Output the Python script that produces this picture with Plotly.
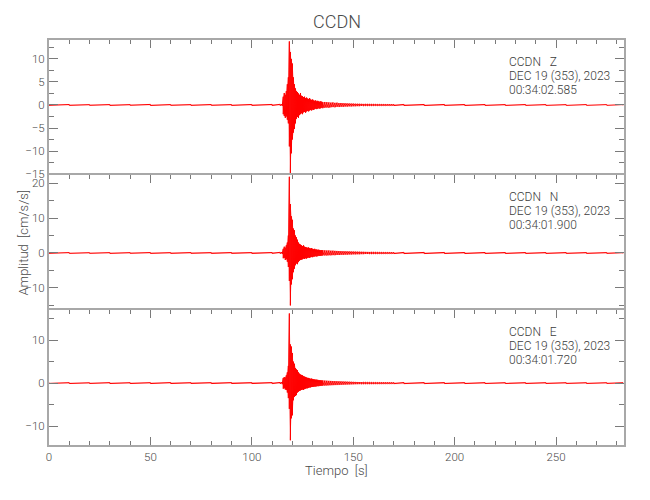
import plotly.graph_objects as go
from plotly.subplots import make_subplots

# ---- sample times (s) ----
T_PRE = [0, 10, 20, 30, 40, 50, 60, 70, 80, 90, 100, 110, 114]
T_EVT1 = [115 + 0.5 * i for i in range(41)]          # 115.0 .. 135.0
T_EVT2 = list(range(136, 171))                       # 136 .. 170
T_POST = [175, 185, 195, 205, 215, 225, 235, 245, 255, 265, 275, 283]
T = T_PRE + T_EVT1 + T_EVT2 + T_POST

# ---- per-sample max / min amplitude (cm/s/s) ----
Z_MAX = ([0.08, 0.1, 0.07, 0.09, 0.08, 0.12, 0.09, 0.08, 0.1, 0.09, 0.11, 0.12, 0.15]
         + [0.2, 1.8, 2.6, 2.2, 3.0, 4.5, 6.0, 13.8, 11.5, 10.0,
            9.0, 6.0, 4.5, 3.6, 3.0, 2.8, 2.5, 2.2, 2.6, 2.0,
            1.9, 1.7, 1.8, 1.5, 1.6, 1.4, 1.3, 1.5, 1.2, 1.1,
            1.2, 1.0, 0.9, 1.0, 0.8, 0.9, 0.8, 0.7, 0.8, 0.7, 0.6]
         + [0.65, 0.6, 0.55, 0.5, 0.55, 0.45, 0.5, 0.4, 0.42, 0.38,
            0.36, 0.34, 0.32, 0.3, 0.3, 0.27, 0.26, 0.25, 0.24, 0.22,
            0.21, 0.2, 0.19, 0.18, 0.18, 0.17, 0.16, 0.16, 0.15, 0.15,
            0.14, 0.14, 0.13, 0.13, 0.12]
         + [0.12, 0.11, 0.11, 0.1, 0.1, 0.09, 0.1, 0.09, 0.08, 0.09, 0.08, 0.08])
Z_MIN = ([-0.08, -0.09, -0.08, -0.1, -0.07, -0.11, -0.08, -0.09, -0.08, -0.1, -0.1, -0.11, -0.14]
         + [-0.2, -2.0, -2.4, -2.8, -2.5, -3.2, -4.0, -9.0, -14.8, -10.5,
            -7.5, -6.0, -5.2, -4.0, -3.0, -2.6, -2.8, -2.2, -2.0, -1.8,
            -2.0, -1.6, -1.5, -1.7, -1.4, -1.3, -1.4, -1.2, -1.1, -1.2,
            -1.0, -1.1, -0.9, -0.8, -0.9, -0.8, -0.7, -0.8, -0.7, -0.6, -0.7]
         + [-0.6, -0.55, -0.6, -0.5, -0.45, -0.5, -0.4, -0.45, -0.38, -0.4,
            -0.34, -0.36, -0.3, -0.32, -0.28, -0.28, -0.25, -0.26, -0.22, -0.23,
            -0.2, -0.21, -0.18, -0.19, -0.17, -0.16, -0.17, -0.15, -0.16, -0.14,
            -0.15, -0.13, -0.14, -0.12, -0.13]
         + [-0.11, -0.12, -0.1, -0.11, -0.1, -0.1, -0.09, -0.09, -0.09, -0.08, -0.08, -0.08])

N_MAX = ([0.1, 0.12, 0.09, 0.11, 0.1, 0.13, 0.1, 0.12, 0.11, 0.13, 0.12, 0.14, 0.2]
         + [0.3, 1.2, 1.8, 1.5, 2.2, 3.0, 5.0, 21.8, 14.0, 10.5,
            9.5, 7.0, 6.5, 5.0, 4.5, 3.8, 3.0, 2.6, 2.4, 2.2,
            2.0, 2.2, 1.8, 1.7, 1.6, 1.5, 1.6, 1.4, 1.3, 1.4,
            1.2, 1.1, 1.2, 1.0, 1.0, 0.9, 0.95, 0.85, 0.8, 0.85, 0.8]
         + [0.75, 0.7, 0.72, 0.65, 0.66, 0.6, 0.58, 0.56, 0.52, 0.5,
            0.48, 0.46, 0.44, 0.42, 0.4, 0.38, 0.36, 0.35, 0.33, 0.32,
            0.3, 0.29, 0.28, 0.27, 0.26, 0.25, 0.24, 0.23, 0.23, 0.22,
            0.21, 0.21, 0.2, 0.19, 0.19]
         + [0.18, 0.17, 0.16, 0.15, 0.15, 0.14, 0.14, 0.13, 0.13, 0.12, 0.12, 0.12])
N_MIN = ([-0.1, -0.11, -0.1, -0.12, -0.09, -0.12, -0.11, -0.1, -0.12, -0.11, -0.13, -0.12, -0.18]
         + [-0.3, -1.5, -1.4, -2.0, -1.8, -2.5, -4.0, -8.0, -15.0, -9.0,
            -7.5, -5.5, -4.5, -3.5, -3.0, -3.2, -2.6, -2.2, -2.0, -1.9,
            -1.8, -1.6, -1.7, -1.5, -1.6, -1.4, -1.3, -1.4, -1.2, -1.1,
            -1.2, -1.0, -1.0, -0.9, -1.0, -0.9, -0.8, -0.85, -0.8, -0.75, -0.7]
         + [-0.7, -0.72, -0.65, -0.66, -0.6, -0.62, -0.55, -0.57, -0.5, -0.52,
            -0.46, -0.47, -0.42, -0.43, -0.38, -0.39, -0.35, -0.36, -0.32, -0.33,
            -0.3, -0.3, -0.27, -0.28, -0.25, -0.25, -0.24, -0.22, -0.23, -0.21,
            -0.21, -0.2, -0.19, -0.19, -0.18]
         + [-0.17, -0.17, -0.15, -0.15, -0.14, -0.14, -0.13, -0.13, -0.12, -0.12, -0.11, -0.11])

E_MAX = ([0.09, 0.1, 0.08, 0.11, 0.09, 0.1, 0.12, 0.09, 0.1, 0.11, 0.1, 0.12, 0.16]
         + [0.25, 1.2, 1.4, 1.3, 1.8, 2.5, 4.0, 16.2, 9.0, 8.5,
            7.0, 5.0, 4.5, 3.5, 3.2, 3.0, 2.5, 2.2, 2.0, 1.9,
            1.8, 1.6, 1.5, 1.4, 1.3, 1.2, 1.2, 1.1, 1.0, 1.05,
            0.95, 0.9, 0.85, 0.8, 0.8, 0.75, 0.7, 0.68, 0.66, 0.62, 0.6]
         + [0.58, 0.55, 0.52, 0.5, 0.47, 0.45, 0.43, 0.41, 0.39, 0.37,
            0.35, 0.33, 0.31, 0.3, 0.28, 0.27, 0.26, 0.25, 0.24, 0.23,
            0.22, 0.21, 0.2, 0.19, 0.18, 0.18, 0.17, 0.17, 0.16, 0.16,
            0.15, 0.15, 0.14, 0.14, 0.13]
         + [0.13, 0.12, 0.12, 0.11, 0.11, 0.1, 0.1, 0.1, 0.09, 0.09, 0.09, 0.09])
E_MIN = ([-0.09, -0.1, -0.09, -0.1, -0.1, -0.11, -0.1, -0.09, -0.11, -0.1, -0.11, -0.12, -0.15]
         + [-0.25, -1.3, -1.2, -1.5, -1.6, -2.2, -3.5, -6.0, -13.3, -8.2,
            -7.5, -4.0, -3.2, -3.0, -2.8, -2.2, -2.0, -1.8, -1.7, -1.6,
            -1.5, -1.6, -1.4, -1.3, -1.2, -1.2, -1.1, -1.0, -1.0, -0.9,
            -0.9, -0.85, -0.8, -0.8, -0.75, -0.7, -0.72, -0.65, -0.62, -0.6, -0.58]
         + [-0.56, -0.54, -0.5, -0.48, -0.46, -0.44, -0.42, -0.4, -0.38, -0.36,
            -0.34, -0.32, -0.31, -0.29, -0.28, -0.26, -0.25, -0.24, -0.23, -0.22,
            -0.21, -0.2, -0.2, -0.19, -0.18, -0.17, -0.17, -0.16, -0.16, -0.15,
            -0.15, -0.14, -0.14, -0.13, -0.13]
         + [-0.12, -0.12, -0.11, -0.11, -0.1, -0.1, -0.1, -0.09, -0.09, -0.09, -0.08, -0.08])

STATION = "CCDN"
COMPONENTS = ["Z", "N", "E"]
DATE_LINE = "DEC 19 (353), 2023"
START_TIMES = ["00:34:02.585", "00:34:01.900", "00:34:01.720"]
Y_RANGES = [[-15.2, 14.1], [-16.3, 22.3], [-14.4, 17.0]]
Y_DTICK = [5, 10, 10]
Y_MINOR = [2.5, 5, 5]
X_RANGE = [0, 283.5]

SERIES = [(Z_MAX, Z_MIN), (N_MAX, N_MIN), (E_MAX, E_MIN)]


def minmax_path(t, mx, mn):
    xs, ys = [], []
    for a, b, c in zip(t, mx, mn):
        xs += [a, a]
        ys += [b, c]
    return xs, ys


FONT = "Roboto, DejaVu Sans Condensed, sans-serif"
AX = "#a8a8a8"
TK = "#7a7a7a"
TXT = "#4a4a4a"

fig = make_subplots(rows=3, cols=1, shared_xaxes=True, vertical_spacing=0)

for i, (mx, mn) in enumerate(SERIES):
    fig.add_trace(go.Scatter(x=T + T[::-1], y=mx + mn[::-1], mode="lines",
                             fill="toself", fillcolor="rgba(255,0,0,0.33)",
                             line=dict(width=0), hoverinfo="skip", showlegend=False),
                  row=i + 1, col=1)
    xs, ys = minmax_path(T, mx, mn)
    fig.add_trace(go.Scatter(x=xs, y=ys, mode="lines",
                             line=dict(color="#ff0000", width=1),
                             hoverinfo="skip", showlegend=False),
                  row=i + 1, col=1)

TICKFONT = dict(family=FONT, size=11.5, color=TXT, weight=300)
for i in range(3):
    r = i + 1
    xkw = dict(range=X_RANGE, tick0=0, dtick=50, ticks="inside", ticklen=8,
               tickwidth=1, tickcolor=TK,
               minor=dict(dtick=10, ticks="inside", ticklen=4, tickcolor=TK, tickwidth=1),
               showline=True, linecolor=AX, linewidth=2, showgrid=False, zeroline=False,
               tickfont=TICKFONT)
    if r < 3:
        xkw.update(side="top", mirror=False, showticklabels=False)
    else:
        xkw.update(side="bottom", mirror="ticks", showticklabels=True)
    fig.update_xaxes(row=r, col=1, **xkw)
    fig.update_yaxes(row=r, col=1, range=Y_RANGES[i], tick0=0, dtick=Y_DTICK[i],
                     ticks="inside", ticklen=9, tickwidth=1, tickcolor=TK,
                     minor=dict(dtick=Y_MINOR[i], ticks="inside", ticklen=5,
                                tickcolor=TK, tickwidth=1),
                     mirror="ticks", showline=True, linecolor=AX, linewidth=2,
                     showgrid=False, zeroline=False, tickfont=TICKFONT)

# target plot area in page pixels: x 49..624, y 40..445 (page has an 8 px body margin)
OFF = 8
L, R, TOP, BOT = 49, 624, 40, 445
W, H = R - L, BOT - TOP
FIG_W, FIG_H = 650 - OFF, 500 - OFF


def px(xp):
    return (xp - L) / W


def py(yp):
    return (BOT - yp) / H


ann = []
panel_tops = [40, 175, 310]
for i in range(3):
    lines = [STATION + "\u00a0\u00a0\u00a0" + COMPONENTS[i], DATE_LINE, START_TIMES[i]]
    for j, s in enumerate(lines):
        ann.append(dict(x=px(507), y=py(panel_tops[i] + 22 + 14 * j), xref="paper", yref="paper",
                        text=s, showarrow=False, xanchor="left", yanchor="middle",
                        font=dict(family=FONT, size=12, color="#3c3c3c", weight=300)))

ann.append(dict(x=px(337), y=py(22), xref="paper", yref="paper", text=STATION,
                showarrow=False, xanchor="center", yanchor="middle",
                font=dict(family=FONT, size=18, color=TXT, weight=300)))
ann.append(dict(x=px(336), y=py(470), xref="paper", yref="paper", text="Tiempo\u00a0\u00a0[s]",
                showarrow=False, xanchor="center", yanchor="middle",
                font=dict(family=FONT, size=13, color=TXT, weight=300)))
ann.append(dict(x=px(23), y=py(242.5), xref="paper", yref="paper",
                text="Amplitud\u00a0\u00a0[cm/s/s]", textangle=-90,
                showarrow=False, xanchor="center", yanchor="middle",
                font=dict(family=FONT, size=13, color=TXT, weight=300)))

fig.update_layout(width=FIG_W, height=FIG_H,
                  margin=dict(l=L - OFF, r=FIG_W - (R - OFF), t=TOP - OFF,
                              b=FIG_H - (BOT - OFF), autoexpand=False),
                  paper_bgcolor="white", plot_bgcolor="white",
                  annotations=ann, showlegend=False)

fig.write_html("out.html")
